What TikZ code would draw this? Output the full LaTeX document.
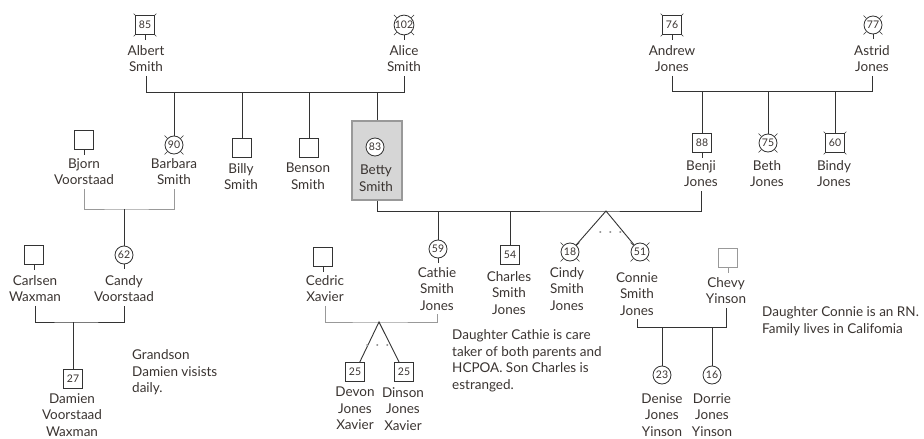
\documentclass[tikz,border=0pt]{standalone}
\usepackage{fontspec}
\setmainfont{Lato}
\usetikzlibrary{calc}
\definecolor{ink}{HTML}{333333}
\definecolor{txt}{HTML}{3A3431}
\definecolor{soft}{HTML}{999999}
\definecolor{shade}{HTML}{D6D6D6}

\begin{document}
\begin{tikzpicture}[x=1pt,y=-1pt,
  male/.style={draw=ink,fill=white,line width=0.8pt,minimum size=19pt,inner sep=0pt,font=\fontsize{10.5}{11}\selectfont,text=txt},
  female/.style={male,circle,minimum size=18pt},
  who/.style={anchor=north,align=center,inner xsep=0pt,inner ysep=4pt,font=\fontsize{13.5}{16.5}\selectfont,text=txt},
  note/.style={anchor=north west,align=left,inner sep=0pt,font=\fontsize{13.5}{16.5}\selectfont,text=txt},
  link/.style={draw=ink,line width=0.9pt},
  faint/.style={draw=soft,line width=0.9pt},
  dots/.style={draw=soft,line width=1.6pt,line cap=round,dash pattern=on 0.6pt off 9.4pt}]
  \useasboundingbox (0,0) rectangle (924,439);

  \node[male] (albert) at (145,25) {85};
  \node[female] (alice) at (404,25) {102};
  \node[male] (andrew) at (672,25) {76};
  \node[female] (astrid) at (873,25) {77};
  \node[who] (albertN) at (146,41) {Albert\\Smith};
  \node[who] (aliceN) at (404,41) {Alice\\Smith};
  \node[who] (andrewN) at (672,41) {Andrew\\Jones};
  \node[who] (astridN) at (872,41) {Astrid\\Jones};

  \node[male] (bjorn) at (84,140) {};
  \node[female] (barbara) at (174,145) {90};
  \node[male] (billy) at (242,148) {};
  \node[male] (benson) at (309,148) {};
  \node[draw=soft,fill=shade,line width=1.6pt,minimum width=50pt,minimum height=79pt,inner sep=0pt] (bettyb) at (377,160.5) {};
  \node[female] (betty) at (375,147) {83};
  \node[male] (benji) at (702,143) {88};
  \node[female] (beth) at (768,143) {75};
  \node[male] (bindy) at (835,143) {60};
  \node[who] (bjornN) at (84,154) {Bjorn\\Voorstaad};
  \node[who] (barbaraN) at (174,154) {Barbara\\Smith};
  \node[who] (billyN) at (241,159) {Billy\\Smith};
  \node[who] (bensonN) at (308,159) {Benson\\Smith};
  \node[who] (bettyN) at (376,161) {Betty\\Smith};
  \node[who] (benjiN) at (701,156) {Benji\\Jones};
  \node[who] (bethN) at (767,156) {Beth\\Jones};
  \node[who] (bindyN) at (834,156) {Bindy\\Jones};

  \node[male] (carlsen) at (34,255) {};
  \node[female] (candy) at (124,255) {62};
  \node[male] (cedric) at (323,257) {};
  \node[female] (cathie) at (438,249) {59};
  \node[male] (charles) at (510,255) {54};
  \node[female] (cindy) at (570,252) {18};
  \node[female] (connie) at (640,252) {51};
  \node[male,draw=soft] (chevy) at (728,258) {};
  \node[who] (carlsenN) at (35,271) {Carlsen\\Waxman};
  \node[who] (candyN) at (124,271) {Candy\\Voorstaad};
  \node[who] (cedricN) at (325,271) {Cedric\\Xavier};
  \node[who] (cathieN) at (437,263) {Cathie\\Smith\\Jones};
  \node[who] (charlesN) at (509,267) {Charles\\Smith\\Jones};
  \node[who] (cindyN) at (567,263) {Cindy\\Smith\\Jones};
  \node[who] (connieN) at (637,268) {Connie\\Smith\\Jones};
  \node[who] (chevyN) at (726,273) {Chevy\\Yinson};

  \node[male] (damien) at (73,379) {27};
  \node[male] (devon) at (355,372) {25};
  \node[male] (dinson) at (404,372) {25};
  \node[female] (denise) at (662,375) {23};
  \node[female] (dorrie) at (712,375) {16};
  \node[who] (damienN) at (72,389) {Damien\\Voorstaad\\Waxman};
  \node[who] (devonN) at (355,383) {Devon\\Jones\\Xavier};
  \node[who] (dinsonN) at (403,383) {Dinson\\Jones\\Xavier};
  \node[who] (deniseN) at (662,389) {Denise\\Jones\\Yinson};
  \node[who] (dorrieN) at (712,389) {Dorrie\\Jones\\Yinson};

  \node[note] (grandson) at (132,349.5) {Grandson\\Damien visists\\daily.};
  \node[note] (carer) at (452,329.5) {Daughter Cathie is care\\taker of both parents and\\HCPOA. Son Charles is\\estranged.};
  \node[note] (nurse) at (762,306.5) {Daughter Connie is an RN.\\Family lives in Califomia};

  \coordinate (smith) at (275,92);
  \coordinate (jones) at (770,91);
  \coordinate (voor) at (124,209);
  \coordinate (wax) at (73,322);
  \coordinate (sj) at (540,211);
  \coordinate (twinsC) at (606,211);
  \coordinate (xav) at (379,322);
  \coordinate (yin) at (687,327);

  \draw[link] (albertN.south) |- (smith) -| (aliceN.south);
  \foreach \p in {barbara,billy,benson,bettyb}
    \draw[link] (\p.north) |- (smith);
  \draw[link] (andrewN.south) |- (jones) -| (astridN.south);
  \foreach \p in {benji,beth,bindy}
    \draw[link] (\p.north) |- (jones);
  \draw[faint] (bjornN.south) |- (voor) -| (barbaraN.south);
  \draw[link] (voor) -- (candy);
  \draw[link] (carlsenN.south) |- (wax) -| (candyN.south);
  \draw[link] (wax) -- (damien);
  \draw[link] (bettyb.south) |- (sj) -| (benjiN.south);
  \draw[link] (cathie.north) |- (sj);
  \draw[link] (charles.north) |- (sj);
  \draw[link] (cindy) -- (twinsC) -- (connie);
  \draw[dots] ($(twinsC)+(-6,21)$) -- ($(twinsC)+(15,21)$);
  \draw[faint] (cedricN.south) |- (xav) -| (cathieN.south);
  \draw[link] (devon) -- (xav) -- (dinson);
  \draw[dots] ($(xav)+(-12,23)$) -- ($(xav)+(9,23)$);
  \draw[link] (connieN.south) |- (yin) -| (chevyN.south);
  \draw[link] (denise.north) |- (yin);
  \draw[link] (dorrie.north) |- (yin);

  \foreach \p in {albert,alice,andrew,astrid,bjorn,carlsen,candy,cathie,cedric,benji}
    \draw[link] (\p.south) -- ++(0,5);
  \draw[faint] (chevy.south) -- ++(0,5);
  \foreach \p/\l in {albert/2pt,alice/4pt,andrew/2pt,astrid/4pt,barbara/4pt,beth/4pt,bindy/2pt,cindy/4pt,connie/4pt}
    \foreach \a in {45,135,225,315}
      \draw[ink,line width=0.6pt] (\p.\a) -- ++(\a:\l);
\end{tikzpicture}
\end{document}
